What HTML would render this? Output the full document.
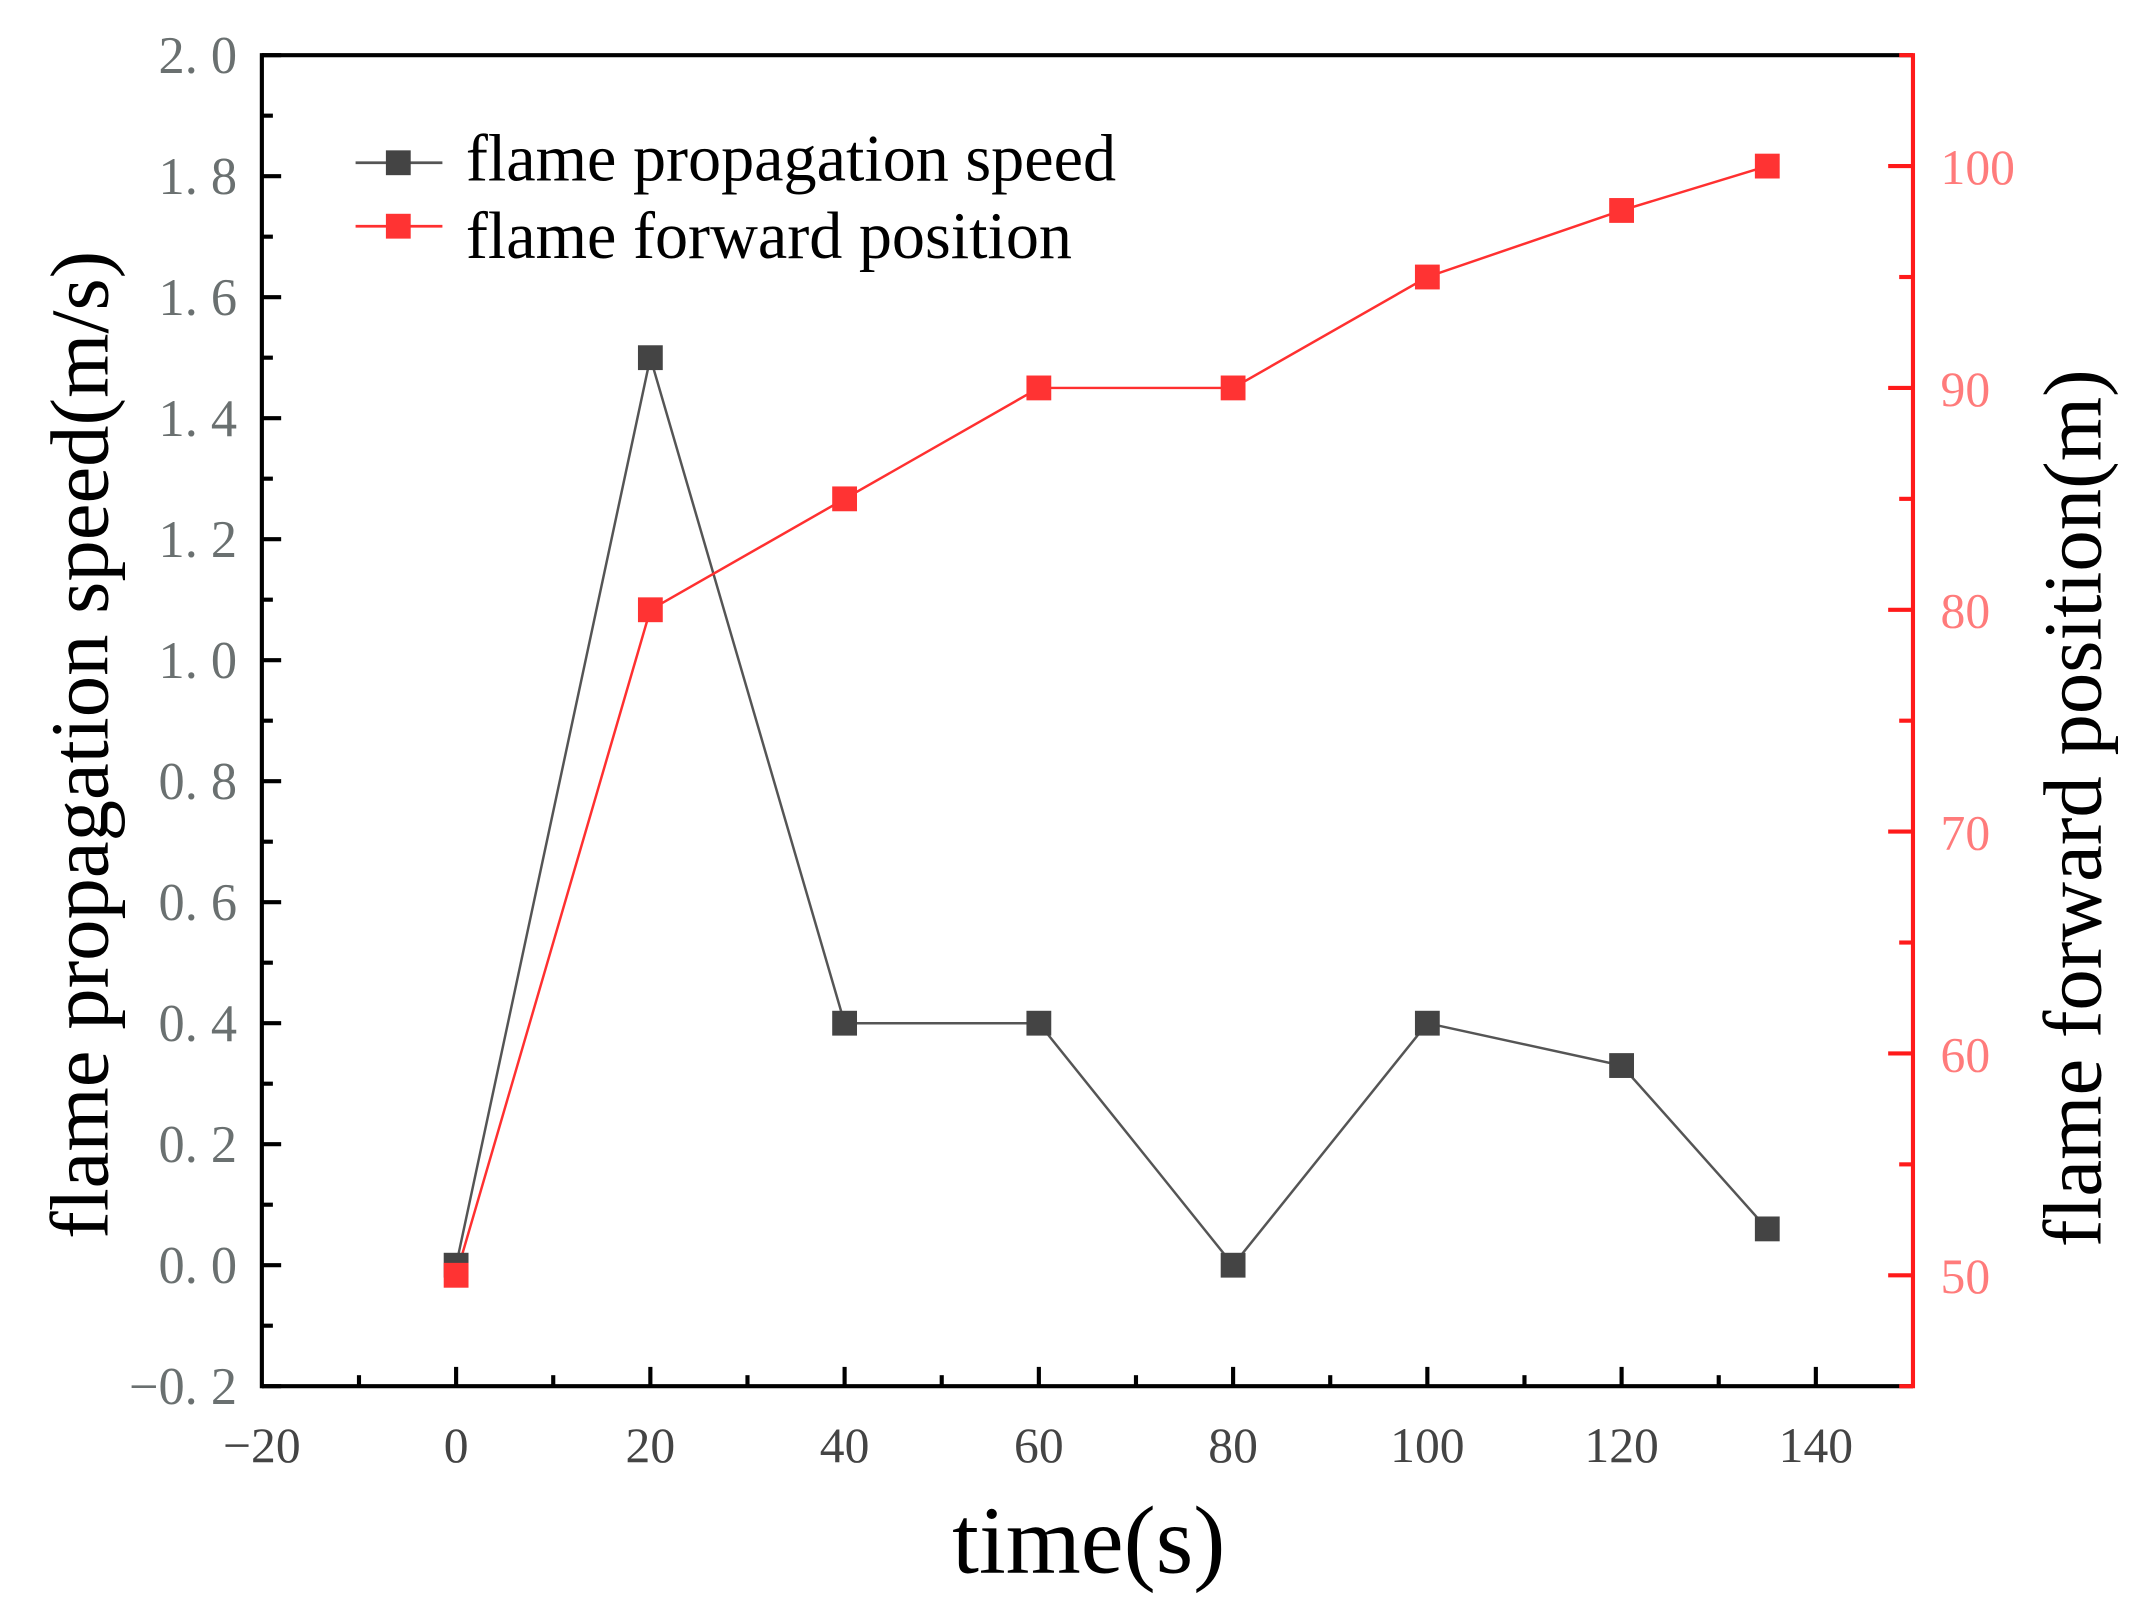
<!DOCTYPE html>
<html><head><meta charset="utf-8"><style>
html,body{margin:0;padding:0;background:#fff;}
svg{display:block;}
text{font-family:"Liberation Serif",serif;}
</style></head><body>
<svg id="chart" width="2139" height="1600" viewBox="0 0 1552 1160" preserveAspectRatio="none" xmlns="http://www.w3.org/2000/svg"></svg>
<script>
const times = [0, 20, 40, 60, 80, 100, 120, 135];
const speedValues = [0.0, 1.5, 0.4, 0.4, 0.0, 0.4, 0.33, 0.06];
const positionValues = [50, 80, 85, 90, 90, 95, 98, 100];
const xTicks = [-20, 0, 20, 40, 60, 80, 100, 120, 140];
const leftTicks = [-0.2, 0.0, 0.2, 0.4, 0.6, 0.8, 1.0, 1.2, 1.4, 1.6, 1.8, 2.0];
const leftTickLabels = ["\u22120. 2","0. 0","0. 2","0. 4","0. 6","0. 8","1. 0","1. 2","1. 4","1. 6","1. 8","2. 0"];
const rightTicks = [50, 60, 70, 80, 90, 100];

const svg = document.getElementById('chart');
const NS = 'http://www.w3.org/2000/svg';
const L = 190, R = 1388, T = 40, B = 1005;
const xS = v => L + (v + 20) / 170 * (R - L);
const yL = v => B - (v + 0.2) / 2.2 * (B - T);
const yR = v => B - (v - 45) / 60 * (B - T);
function mk(tag, attrs, txt) {
  const e = document.createElementNS(NS, tag);
  for (const k in attrs) e.setAttribute(k, attrs[k]);
  if (txt !== undefined) e.textContent = txt;
  svg.appendChild(e);
  return e;
}
let e;
e = mk('line', {x1:L, y1:T, x2:R, y2:T, stroke:'#000', 'stroke-width':3});


e = mk('line', {x1:L, y1:T-1.5, x2:L, y2:B+1.5, stroke:'#000', 'stroke-width':3});


e = mk('line', {x1:L, y1:B, x2:R, y2:B, stroke:'#000', 'stroke-width':3});


e = mk('line', {x1:R, y1:T-1.5, x2:R, y2:B+1.5, stroke:'#ff1a1a', 'stroke-width':3});



for (let v = -10; v <= 140; v += 10) {
  const major = v % 20 === 0;
  e = mk('line', {x1:xS(v), y1:B, x2:xS(v), y2:B - (major ? 14 : 8), stroke:'#000', 'stroke-width':3});
  
  
}
xTicks.forEach(v => {
  e = mk('text', {x:xS(v), y:1060, 'font-size':36, fill:'#444', 'text-anchor':'middle'}, v < 0 ? '\u2212' + Math.abs(v) : String(v));
  
  
});
for (let i = 0; i <= 22; i++) {
  const v = -0.2 + i * 0.1;
  const major = i % 2 === 0;
  e = mk('line', {x1:L, y1:yL(v), x2:L + (major ? 14 : 8), y2:yL(v), stroke:'#000', 'stroke-width':3});
  
  
}
leftTicks.forEach((v, i) => {
  e = mk('text', {x:172, y:yL(v) + 13, 'font-size':38, fill:'#6a7070', 'text-anchor':'end'}, leftTickLabels[i]);
  
  
});
for (let v = 45; v <= 105; v += 5) {
  const major = v % 10 === 0;
  e = mk('line', {x1:R, y1:yR(v), x2:R - (major ? 18 : 10), y2:yR(v), stroke:'#ff1a1a', 'stroke-width':3});
  
  
}
rightTicks.forEach(v => {
  e = mk('text', {x:1408, y:yR(v) + 13, 'font-size':36, fill:'#ff7b7b', 'text-anchor':'start'}, String(v));
  
  
});

const sp = times.map((t, i) => xS(t) + ',' + yL(speedValues[i])).join(' ');
e = mk('polyline', {points:sp, fill:'none', stroke:'#555', 'stroke-width':1.8});


const pp = times.map((t, i) => xS(t) + ',' + yR(positionValues[i])).join(' ');
e = mk('polyline', {points:pp, fill:'none', stroke:'#ff3030', 'stroke-width':1.8});


times.forEach((t, i) => {
  e = mk('rect', {x:xS(t) - 9, y:yL(speedValues[i]) - 9, width:18, height:18, fill:'#444'});
  
  
});
times.forEach((t, i) => {
  e = mk('rect', {x:xS(t) - 9, y:yR(positionValues[i]) - 9, width:18, height:18, fill:'#ff3333'});
  
  
});

e = mk('line', {x1:258, y1:118, x2:321, y2:118, stroke:'#555', 'stroke-width':2});


e = mk('rect', {x:280, y:109, width:18, height:18, fill:'#444'});


e = mk('text', {x:338, y:131, 'font-size':48, fill:'#000'}, 'flame propagation speed');


e = mk('line', {x1:258, y1:164, x2:321, y2:164, stroke:'#ff3030', 'stroke-width':2});


e = mk('rect', {x:280, y:155, width:18, height:18, fill:'#ff3333'});


e = mk('text', {x:338, y:187, 'font-size':48, fill:'#000'}, 'flame forward position');



e = mk('text', {x:0, y:0, 'font-size':60, fill:'#000', 'text-anchor':'middle', transform:'translate(78,540) rotate(-90)'}, 'flame propagation speed(m/s)');


e = mk('text', {x:0, y:0, 'font-size':60, fill:'#000', 'text-anchor':'middle', transform:'translate(1524,586) rotate(-90)'}, 'flame forward position(m)');


e = mk('text', {x:790, y:1140, 'font-size':70, fill:'#000', 'text-anchor':'middle'}, 'time(s)');


</script>
</body></html>
